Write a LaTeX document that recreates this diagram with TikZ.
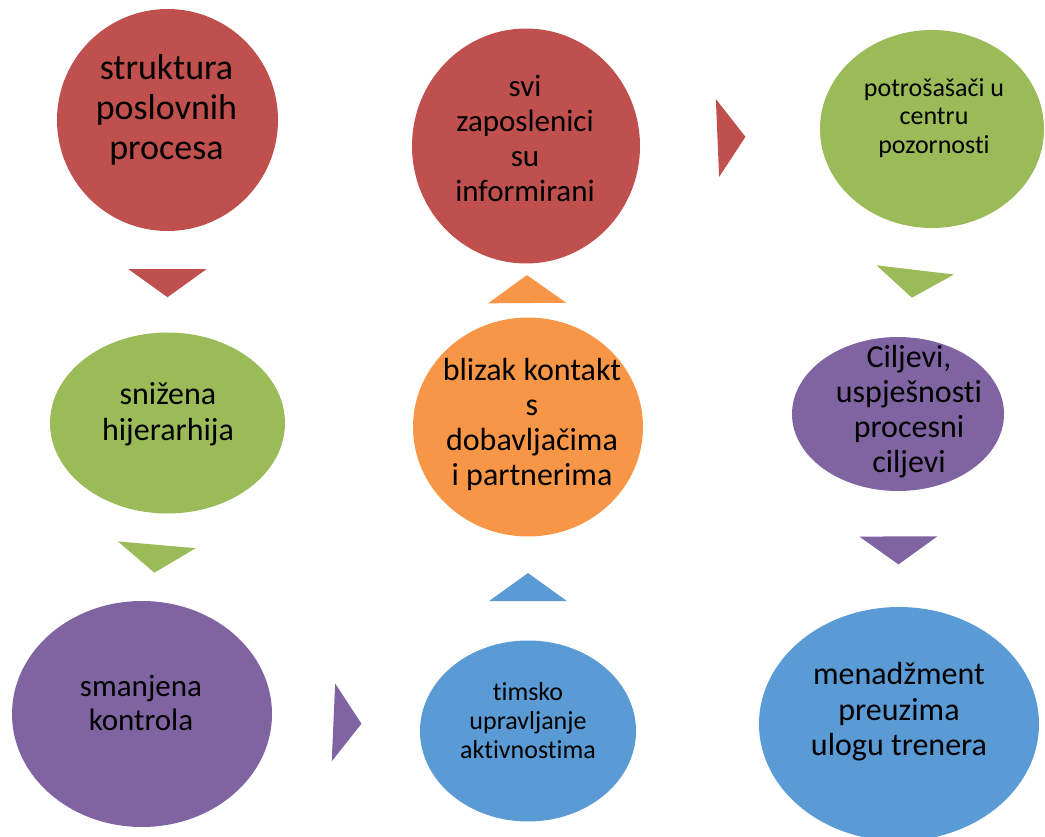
\documentclass[tikz,border=0pt]{standalone}
\usepackage{fontspec}
\setmainfont{Carlito}[Ligatures = NoCommon]
\usetikzlibrary{shapes.geometric}
\definecolor{cred}{HTML}{C0504D}
\definecolor{cgreen}{HTML}{9BBB59}
\definecolor{cpurple}{HTML}{8064A2}
\definecolor{corange}{HTML}{F79646}
\definecolor{cblue}{HTML}{5B9BD5}
\tikzset{
  blob/.style = {ellipse, inner sep = 0pt, outer sep = 0pt},
  blobtext/.style = {align = center, text = black, inner sep = 0pt},
  pointer/.style = {isosceles triangle, isosceles triangle stretches, inner sep = 0pt, outer sep = 0pt,
                    minimum width = 78pt, minimum height = 28pt, midway, sloped, allow upside down}
}
\begin{document}
\begin{tikzpicture}[x = 1pt, y = -1pt]
\useasboundingbox (0, 0) rectangle (1045, 837);
\clip (0, 0) rectangle (1045, 837);
% ellipses
\node [blob, fill = cred, minimum width = 221pt, minimum height = 222pt] (struktura) at (167.5, 120) {};
\node [blob, fill = cred, minimum width = 228pt, minimum height = 235pt] (svi) at (526, 146) {};
\node [blob, fill = cgreen, minimum width = 224pt, minimum height = 198pt] (potrosaci) at (932, 129) {};
\node [blob, fill = cgreen, minimum width = 235pt, minimum height = 181pt] (snizena) at (167.5, 423) {};
\node [blob, fill = corange, minimum width = 230pt, minimum height = 219pt] (blizak) at (528, 427) {};
\node [blob, fill = cpurple, minimum width = 212pt, minimum height = 154pt] (ciljevi) at (898, 414) {};
\node [blob, fill = cpurple, minimum width = 260pt, minimum height = 226pt] (smanjena) at (142, 714) {};
\node [blob, fill = cblue, minimum width = 216pt, minimum height = 181pt] (timsko) at (528, 731) {};
\node [blob, fill = cblue, minimum width = 280pt, minimum height = 234pt] (menadzment) at (899, 724) {};
% texts
\node [blobtext, font = \fontsize{36}{40}\selectfont] (struktura-t) at (166.5, 110) {struktura\\poslovnih\\procesa};
\node [blobtext, font = \fontsize{31}{35}\selectfont] (svi-t) at (525, 138) {svi\\zaposlenici\\su\\informirani};
\node [blobtext, font = \fontsize{26}{28.5}\selectfont] (potrosaci-t) at (934, 118) {potrošašači u\\centru\\pozornosti};
\node [blobtext, font = \fontsize{32}{36}\selectfont] (snizena-t) at (168, 414) {snižena\\hijerarhija};
\node [blobtext, font = \fontsize{32}{35}\selectfont] (blizak-t) at (532, 424) {blizak kontakt\\s\\dobavljačima\\i partnerima};
\node [blobtext, font = \fontsize{32}{35}\selectfont] (ciljevi-t) at (909, 412) {Ciljevi,\\uspješnosti\\procesni\\ciljevi};
\node [blobtext, font = \fontsize{31}{34}\selectfont] (smanjena-t) at (141, 703) {smanjena\\kontrola};
\node [blobtext, font = \fontsize{26}{29}\selectfont] (timsko-t) at (528, 721) {timsko\\upravljanje\\aktivnostima};
\node [blobtext, font = \fontsize{32}{35.5}\selectfont] (menadzment-t) at (899, 712) {menadžment\\preuzima\\ulogu trenera};
% pointers
\path (struktura) -- (snizena) node [pointer, fill = cred] (p1) {};
\path (snizena) -- (smanjena) node [pointer, fill = cgreen] (p2) {};
\path (smanjena) -- (timsko) node [pointer, fill = cpurple] (p3) {};
\path (timsko) -- (blizak) node [pointer, fill = cblue] (p4) {};
\path (blizak) -- (svi) node [pointer, fill = corange] (p5) {};
\path (svi) -- (potrosaci) node [pointer, fill = cred] (p6) {};
\path (potrosaci) -- (ciljevi) node [pointer, fill = cgreen] (p7) {};
\path (ciljevi) -- (menadzment) node [pointer, fill = cpurple] (p8) {};
\end{tikzpicture}
\end{document}
